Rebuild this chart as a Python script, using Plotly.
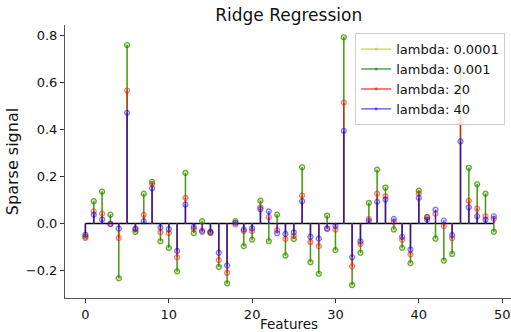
import plotly.graph_objects as go

features = list(range(50))

coef_l0001 = [-0.055, 0.095, 0.136, 0.038, -0.232, 0.758, -0.035, 0.127, 0.177, -0.075,
              -0.103, -0.203, 0.215, -0.040, 0.010, -0.038, -0.184, -0.254, 0.010, -0.096,
              -0.068, 0.097, -0.075, 0.038, -0.136, -0.066, 0.239, -0.164, -0.213, 0.034,
              -0.113, 0.791, -0.261, -0.124, 0.088, 0.229, 0.153, -0.025, -0.103, -0.168,
              0.140, 0.027, -0.064, -0.157, -0.129, 0.648, 0.237, 0.167, 0.127, -0.035]
coef_l001 = [-0.055, 0.095, 0.136, 0.038, -0.232, 0.758, -0.035, 0.127, 0.177, -0.075,
             -0.103, -0.203, 0.215, -0.040, 0.010, -0.038, -0.184, -0.254, 0.010, -0.096,
             -0.068, 0.097, -0.075, 0.038, -0.136, -0.066, 0.239, -0.164, -0.213, 0.034,
             -0.113, 0.791, -0.261, -0.124, 0.088, 0.229, 0.153, -0.025, -0.103, -0.168,
             0.140, 0.027, -0.064, -0.157, -0.129, 0.648, 0.237, 0.167, 0.127, -0.035]
coef_l20 = [-0.061, 0.052, 0.042, -0.002, -0.061, 0.565, -0.025, 0.037, 0.168, -0.037,
            -0.040, -0.143, 0.109, -0.023, -0.030, -0.040, -0.155, -0.209, -0.004, -0.032,
            -0.032, 0.069, 0.028, -0.028, -0.065, -0.052, 0.119, -0.078, -0.096, -0.023,
            -0.025, 0.514, -0.181, -0.086, 0.020, 0.127, 0.116, 0.008, -0.069, -0.131,
            0.127, 0.027, 0.042, -0.011, -0.062, 0.431, 0.097, 0.064, 0.031, 0.020]
coef_l40 = [-0.047, 0.038, 0.017, -0.001, -0.021, 0.470, -0.021, 0.010, 0.150, -0.016,
            -0.024, -0.116, 0.081, -0.014, -0.035, -0.034, -0.124, -0.178, 0.003, -0.025,
            -0.020, 0.061, 0.052, -0.041, -0.044, -0.037, 0.095, -0.056, -0.064, -0.020,
            -0.010, 0.394, -0.143, -0.075, 0.011, 0.092, 0.102, 0.020, -0.056, -0.110,
            0.109, 0.017, 0.059, 0.013, -0.049, 0.349, 0.069, 0.031, 0.016, 0.031]

series_names = ["lambda: 0.0001", "lambda: 0.001", "lambda: 20", "lambda: 40"]
series_values = [coef_l0001, coef_l001, coef_l20, coef_l40]
series_rgb = ["191,191,0", "0,128,0", "255,0,0", "0,0,255"]

fig = go.Figure()

# baseline
fig.add_trace(go.Scatter(x=[features[0], features[-1]], y=[0, 0], mode="lines",
                         line=dict(color="black", width=1.5), showlegend=False,
                         hoverinfo="skip"))

for name, vals, rgb in zip(series_names, series_values, series_rgb):
    xs, ys, sizes = [], [], []
    for xi, v in zip(features, vals):
        xs += [xi, xi, None]
        ys += [0, v, None]
        sizes += [0, 5, 0]
    fig.add_trace(go.Scatter(
        x=xs, y=ys, mode="lines+markers", name=name,
        line=dict(color=f"rgba({rgb},0.7)", width=1.4),
        marker=dict(size=sizes, color=f"rgba({rgb},0.2)",
                    line=dict(color=f"rgba({rgb},0.75)", width=1.2)),
    ))

fig.update_layout(
    width=511, height=332,
    margin=dict(l=65, r=0, t=25, b=34),
    plot_bgcolor="white", paper_bgcolor="white",
    font=dict(family="DejaVu Sans", size=13, color="#111"),
    title=dict(text="Ridge Regression", x=0.565, xanchor="center", y=0.955, yanchor="middle",
               font=dict(size=17, color="#111")),
    legend=dict(x=0.987, xanchor="right", y=0.97, yanchor="top",
                bgcolor="rgba(255,255,255,0.8)", bordercolor="#cccccc", borderwidth=1,
                font=dict(size=13), tracegroupgap=0, itemwidth=30),
    showlegend=True,
    annotations=[dict(text="Features", xref="paper", yref="paper", x=0.503,
                      y=-0.094, xanchor="center", yanchor="middle", showarrow=False,
                      font=dict(size=13.5, color="#111"))],
)
fig.update_xaxes(range=[-2.45, 51.06], tickmode="array", tickvals=[0, 10, 20, 30, 40, 50],
                 showgrid=False, zeroline=False, showline=True, linecolor="#555",
                 linewidth=1, ticks="outside", ticklen=4, tickcolor="#333", mirror=False)
fig.update_yaxes(range=[-0.316, 0.843], tickmode="array",
                 tickvals=[-0.2, 0, 0.2, 0.4, 0.6, 0.8],
                 ticktext=["\u22120.2", "0.0", "0.2", "0.4", "0.6", "0.8"],
                 showgrid=False, zeroline=False, showline=True, linecolor="#555",
                 linewidth=1, ticks="outside", ticklen=4, tickcolor="#333",
                 title=dict(text="Sparse signal", standoff=3), mirror=True)

fig.write_html("out.html")
